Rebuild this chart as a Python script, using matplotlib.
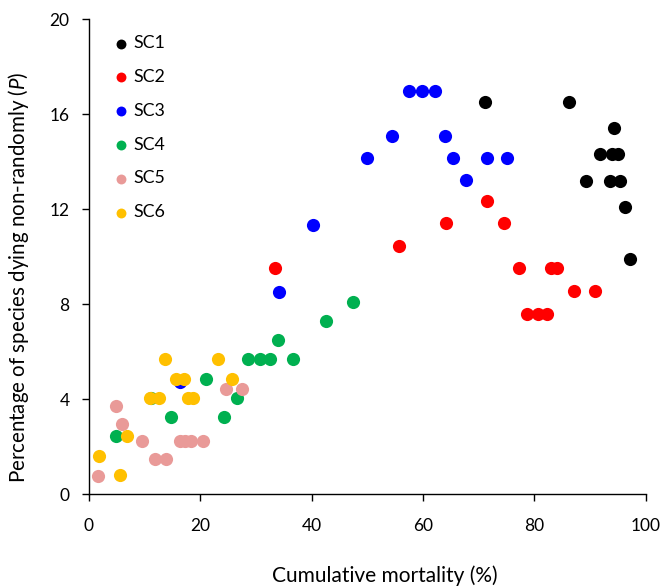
import matplotlib.pyplot as plt

plt.rcParams['font.family'] = ['Lato', 'DejaVu Sans']
plt.rcParams['mathtext.fontset'] = 'custom'
plt.rcParams['mathtext.rm'] = 'Lato'
plt.rcParams['mathtext.it'] = 'Lato:italic'

# cumulative mortality (%) and percentage of species dying non-randomly, per series
sc1_x = [71.2, 86.2, 94.3, 91.8, 93.9, 95.0, 89.2, 93.5, 95.3, 96.2, 97.2]
sc1_y = [16.5, 16.5, 15.4, 14.3, 14.3, 14.3, 13.2, 13.2, 13.2, 12.1, 9.9]

sc2_x = [33.4, 55.7, 64.1, 71.5, 74.6, 77.2, 78.7, 80.7, 82.3, 83.0, 84.0, 87.1, 90.8]
sc2_y = [9.5, 10.45, 11.4, 12.35, 11.4, 9.5, 7.6, 7.6, 7.6, 9.5, 9.5, 8.55, 8.55]

sc3_x = [16.3, 34.1, 40.3, 50.0, 54.4, 57.5, 59.8, 62.2, 63.9, 65.4, 67.7, 71.4, 75.0]
sc3_y = [4.72, 8.49, 11.32, 14.15, 15.09, 16.98, 16.98, 16.98, 15.09, 14.15, 13.21, 14.15, 14.15]

sc4_x = [4.9, 11.2, 14.7, 21.0, 24.3, 26.6, 28.5, 30.8, 32.6, 33.9, 36.6, 42.5, 47.5]
sc4_y = [2.43, 4.05, 3.24, 4.86, 3.24, 4.05, 5.67, 5.67, 5.67, 6.48, 5.67, 7.29, 8.1]

sc5_x = [1.6, 4.9, 5.9, 9.5, 11.9, 13.9, 16.3, 17.3, 18.4, 20.5, 24.6, 27.4]
sc5_y = [0.74, 3.7, 2.96, 2.22, 1.48, 1.48, 2.22, 2.22, 2.22, 2.22, 4.44, 4.44]

sc6_x = [1.8, 5.5, 6.9, 10.9, 12.6, 13.7, 15.7, 17.1, 17.7, 18.7, 23.2, 25.7]
sc6_y = [1.62, 0.81, 2.43, 4.05, 4.05, 5.67, 4.86, 4.86, 4.05, 4.05, 5.67, 4.86]

series = [
    ('SC1', sc1_x, sc1_y, '#000000'),
    ('SC2', sc2_x, sc2_y, '#FF0000'),
    ('SC3', sc3_x, sc3_y, '#0000FF'),
    ('SC4', sc4_x, sc4_y, '#00B050'),
    ('SC5', sc5_x, sc5_y, '#E99A98'),
    ('SC6', sc6_x, sc6_y, '#FFC000'),
]

fig = plt.figure(figsize=(6.61, 5.87), dpi=100)
ax = fig.add_axes([0.1346, 0.1584, 0.8424, 0.8092])

for name, xs, ys, color in series:
    ax.scatter(xs, ys, s=90, color=color, label=name, linewidths=0, clip_on=False, zorder=3)

ax.set_xlim(0, 100)
ax.set_ylim(0, 20)
ax.set_xticks(range(0, 101, 20))
ax.set_yticks(range(0, 21, 4))

for side in ['top', 'right']:
    ax.spines[side].set_visible(False)
for side in ['left', 'bottom']:
    ax.spines[side].set_linewidth(1.0)
    ax.spines[side].set_color('#000000')

ax.tick_params(axis='x', direction='out', length=5, width=1, pad=12, labelsize=12.5)
ax.tick_params(axis='y', direction='out', length=5, width=1, pad=9, labelsize=12.5)

ax.set_xlabel('Cumulative mortality (%)', fontsize=15)
ax.set_ylabel('Percentage of species dying non-randomly ($\\it{P}$)', fontsize=14.8)
ax.xaxis.set_label_coords(0.531, -0.171)
ax.yaxis.set_label_coords(-0.127, 0.457)
ax.xaxis.label.set_verticalalignment('center')
ax.yaxis.label.set_verticalalignment('center')

leg = ax.legend(loc='upper left', bbox_to_anchor=(0.02, 0.988), frameon=False,
                fontsize=12.8, markerscale=0.75, handletextpad=0.1,
                labelspacing=1.0, borderaxespad=0.2, handlelength=1.2)

plt.savefig('out.png', dpi=100)
